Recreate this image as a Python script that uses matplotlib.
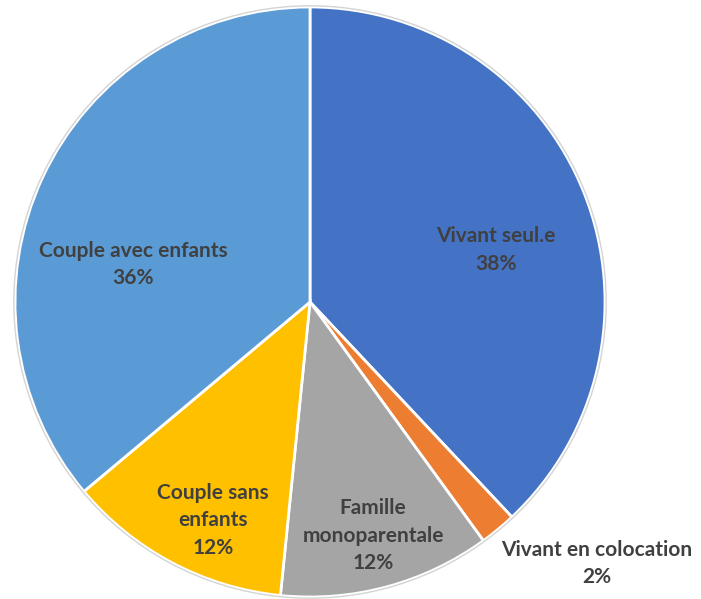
import numpy as np
import matplotlib.pyplot as plt
from matplotlib.patches import Circle

# slices, clockwise from the top
labels = ["Vivant seul.e", "Vivant en colocation", "Famille\nmonoparentale",
          "Couple sans\nenfants", "Couple avec enfants"]
values = [38.0, 2.0, 11.6, 12.3, 36.1]
colors = ["#4472C4", "#ED7D31", "#A5A5A5", "#FFC000", "#5B9BD5"]

# label placement (fraction of radius, angular nudge in degrees, clockwise)
label_r = [0.655, 1.315, 0.82, 0.81, 0.613]
label_shift = [6, -8, 0, -4, -13]

W, H = 701, 599
R = 295.0
cx, cy = 310, 302

fig = plt.figure(figsize=(W / 100, H / 100), dpi=100)
ax = fig.add_axes([0, 0, 1, 1])

wedges, _ = ax.pie(values, colors=colors, startangle=90, counterclock=False,
                   radius=1.0, wedgeprops=dict(edgecolor="white", linewidth=2))
ax.add_patch(Circle((0, 0), 1.004, fill=False, edgecolor="#d4d4d4", lw=1))

for w, lab, v, r, sh in zip(wedges, labels, values, label_r, label_shift):
    mid = np.deg2rad((w.theta1 + w.theta2) / 2 - sh)
    x, y = r * np.cos(mid), r * np.sin(mid)
    ax.text(x, y, f"{lab}\n{v:.0f}%", ha="center", va="center",
            multialignment="center", fontsize=15, fontweight="bold",
            color="#404040", family="Lato", linespacing=1.45)

ax.set_xlim(-cx / R, (W - cx) / R)
ax.set_ylim(-(H - cy) / R, cy / R)
ax.set_aspect("auto")
ax.axis("off")

fig.savefig("out.png", dpi=100)
